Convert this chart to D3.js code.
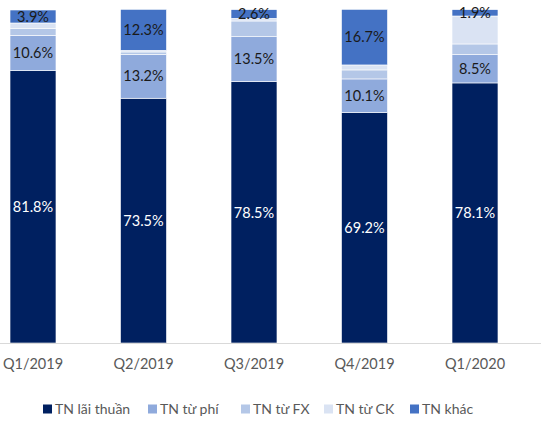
<!DOCTYPE html>
<html>
<head>
<meta charset="utf-8">
<script src="https://cdn.jsdelivr.net/npm/d3@7/dist/d3.min.js"></script>
<style>
  html, body { margin: 0; padding: 0; background: #fff; }
  svg { display: block; }
  text { font-family: Lato, "Open Sans", sans-serif; }
</style>
</head>
<body>
<svg id="chart" width="541" height="421"></svg>
<script>
const categories = ["Q1/2019", "Q2/2019", "Q3/2019", "Q4/2019", "Q1/2020"];
const seriesNames = ["TN lãi thuần", "TN từ phí", "TN từ FX", "TN từ CK", "TN khác"];
const laiThuan = [81.8, 73.5, 78.5, 69.2, 78.1];
const tuPhi    = [10.6, 13.2, 13.5, 10.1, 8.5];
const tuFX     = [2.0, 0.7, 4.7, 2.7, 3.2];
const tuCK     = [1.7, 0.5, 0.8, 1.5, 8.4];
const khac     = [3.9, 12.3, 2.6, 16.7, 1.9];
const labelShown = [true, true, false, false, true];
const colors = ["#002060", "#8FAADC", "#B4C7E7", "#DAE3F3", "#4472C4"];
const labelColors = ["#ffffff", "#1a1a1a", "#1a1a1a", "#1a1a1a", "#1a1a1a"];

const seriesValues = [laiThuan, tuPhi, tuFX, tuCK, khac];
const rows = categories.map((c, i) => {
  const r = { cat: c };
  seriesNames.forEach((s, k) => r[s] = seriesValues[k][i]);
  return r;
});
const stacked = d3.stack().keys(seriesNames)(rows);

const svg = d3.select("#chart");
const x = d3.scaleBand().domain(categories).range([-22.25, 530.25])
  .paddingInner(0.584).paddingOuter(0.292);
const y = d3.scaleLinear().domain([0, 100]).range([343, 10]);

const g = svg.append("g");
stacked.forEach((layer, k) => {
  const lg = g.append("g");
  lg.selectAll("rect").data(layer).join("rect")
    .attr("x", d => x(d.data.cat))
    .attr("width", x.bandwidth())
    .attr("y", d => y(d[1]))
    .attr("height", d => y(d[0]) - y(d[1]))
    .attr("fill", colors[k])
    .attr("stroke", "#ffffff")
    .attr("stroke-width", 0.6);
  if (labelShown[k]) {
    lg.selectAll("text").data(layer).join("text")
      .attr("x", d => x(d.data.cat) + x.bandwidth() / 2)
      .attr("y", d => (y(d[0]) + y(d[1])) / 2)
      .attr("dy", "0.36em")
      .attr("text-anchor", "middle")
      .attr("font-size", 14.5)
      .attr("fill", labelColors[k])
      .text(d => d3.format(".1f")(d[1] - d[0]) + "%");
  }
});

// axis line
svg.append("line").attr("x1", 0).attr("x2", 541)
  .attr("y1", 343.5).attr("y2", 343.5)
  .attr("stroke", "#D9D9D9").attr("stroke-width", 1.2);

const xAxis = svg.append("g").attr("transform", "translate(0,343)")
  .call(d3.axisBottom(x).tickSize(0).tickPadding(16));
xAxis.select(".domain").remove();
xAxis.selectAll("text").attr("font-size", 14.5).attr("fill", "#595959")
  .attr("font-family", "Lato, 'Open Sans', sans-serif");

// legend
const legendX = [43, 148, 241, 324, 410];
const leg = svg.append("g");
seriesNames.forEach((s, k) => {
  leg.append("rect").attr("x", legendX[k]).attr("y", 404.5)
    .attr("width", 9).attr("height", 9).attr("fill", colors[k]);
  leg.append("text").attr("x", legendX[k] + 12).attr("y", 409)
    .attr("dy", "0.36em").attr("font-size", 14).attr("fill", "#595959")
    .text(s);
});
</script>
</body>
</html>
